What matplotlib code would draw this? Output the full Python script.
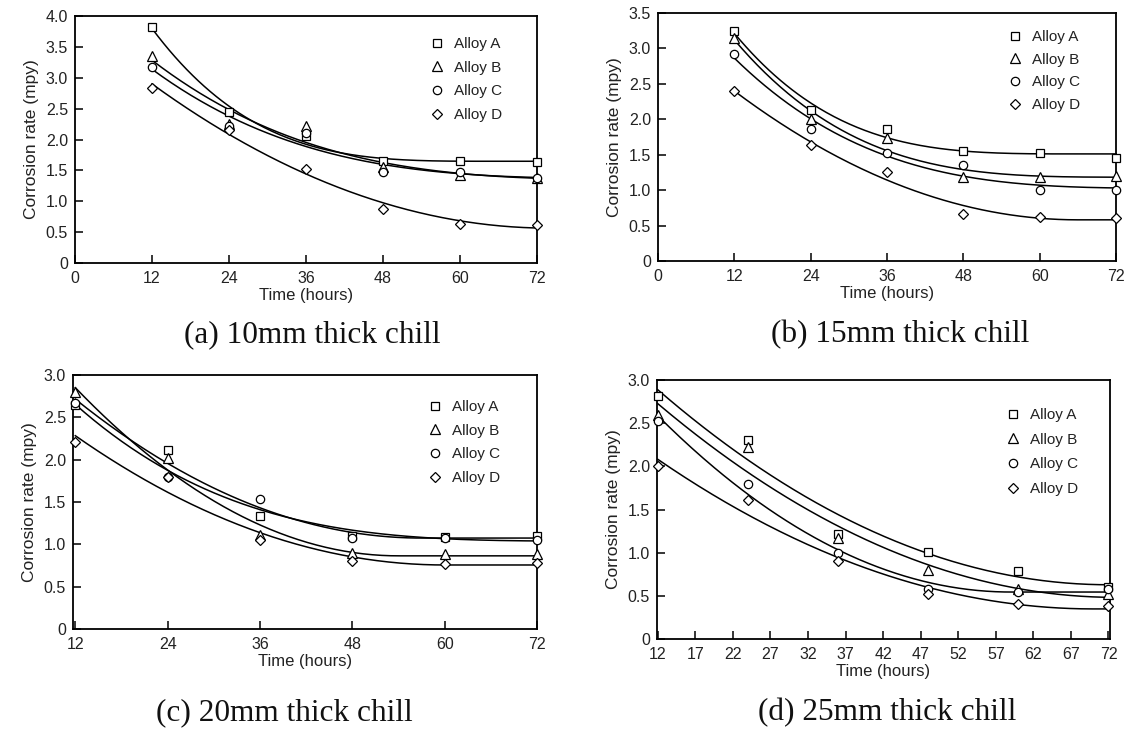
import numpy as np
import matplotlib
matplotlib.use('Agg')
import matplotlib.pyplot as plt

plt.rcParams['font.family'] = ['Liberation Sans', 'DejaVu Sans']

alloys = ['Alloy A', 'Alloy B', 'Alloy C', 'Alloy D']
markers = ['s', '^', 'o', 'D']
msizes = [6, 7, 6, 5.5]
hours = [12, 24, 36, 48, 60, 72]

# (a) 10mm
a_vals = [[3.82, 2.45, 2.05, 1.65, 1.65, 1.63],
          [3.35, 2.25, 2.22, 1.55, 1.42, 1.38],
          [3.18, 2.22, 2.10, 1.48, 1.47, 1.38],
          [2.84, 2.16, 1.52, 0.88, 0.63, 0.62]]
# (b) 15mm
b_vals = [[3.24, 2.13, 1.86, 1.55, 1.53, 1.45],
          [3.15, 2.00, 1.74, 1.19, 1.19, 1.20],
          [2.92, 1.86, 1.52, 1.35, 1.00, 1.00],
          [2.40, 1.64, 1.26, 0.67, 0.62, 0.60]]
# (c) 20mm
c_vals = [[2.65, 2.12, 1.33, 1.10, 1.09, 1.10],
          [2.80, 2.02, 1.11, 0.90, 0.88, 0.88],
          [2.67, 1.80, 1.53, 1.08, 1.08, 1.05],
          [2.21, 1.79, 1.05, 0.80, 0.77, 0.78]]
# (d) 25mm
d_vals = [[2.81, 2.31, 1.22, 1.01, 0.79, 0.60],
          [2.60, 2.22, 1.17, 0.80, 0.58, 0.52],
          [2.53, 1.80, 1.00, 0.58, 0.55, 0.58],
          [2.00, 1.61, 0.90, 0.52, 0.40, 0.38]]

captions = ['(a) 10mm thick chill', '(b) 15mm thick chill',
            '(c) 20mm thick chill', '(d) 25mm thick chill']


def smooth_fit(x, y):
    # y = a + b*(x0 - min(x, x0))**p, a decay that levels off at x0
    x = np.asarray(x, float)
    y = np.asarray(y, float)
    best = None
    for x0 in np.linspace(48, 120, 73):
        for p in np.linspace(2.0, 3.5, 16):
            u = (x0 - np.minimum(x, x0)) ** p
            A = np.column_stack([np.ones_like(x), u])
            coef = np.linalg.lstsq(A, y, rcond=None)[0]
            r = np.sum((A @ coef - y) ** 2)
            if best is None or r < best[0]:
                best = (r, x0, p, coef)
    _, x0, p, coef = best
    return lambda t: coef[0] + coef[1] * (x0 - np.minimum(t, x0)) ** p


W, H = 1134, 731
fig = plt.figure(figsize=(W / 100, H / 100), dpi=100)
# axes boxes in pixels: left, right, top, bottom
boxes = [(75, 537, 16, 263),
         (658, 1116, 13, 261),
         (73, 537, 375, 629),
         (657, 1110, 380, 639)]
data = [a_vals, b_vals, c_vals, d_vals]
ylims = [4.0, 3.5, 3.0, 3.0]
# legend: first marker x, first row y, row spacing (pixels)
leg_pos = [(437, 42, 24), (1015, 35, 23), (435, 405, 24), (1013, 413, 25)]
cap_pos = [(312, 335), (900, 335), (284, 713), (887, 713)]
txt = '#222222'
fs_leg = 11

for i in range(4):
    l, r, t, b = boxes[i]
    ax = fig.add_axes([l / W, 1 - b / H, (r - l) / W, (b - t) / H])
    for j in range(4):
        f = smooth_fit(hours, data[i][j])
        xs = np.linspace(12, 72, 200)
        ax.plot(xs, f(xs), color='black', lw=1.1, zorder=2, clip_on=False)
        ax.plot(hours, data[i][j], linestyle='none', marker=markers[j],
                ms=msizes[j], mfc='white', mec='black', mew=0.9,
                label=alloys[j], zorder=3, clip_on=False)
    ax.set_ylim(0, ylims[i])
    yt = np.arange(0, ylims[i] + 0.01, 0.5)
    ax.set_yticks(yt)
    ax.set_yticklabels(['0'] + ['%.1f' % v for v in yt[1:]])
    if i < 2:
        ax.set_xlim(0, 72)
        ax.set_xticks([0, 12, 24, 36, 48, 60, 72])
    elif i == 2:
        ax.set_xlim(11.7, 72)
        ax.set_xticks([12, 24, 36, 48, 60, 72])
    else:
        ax.set_xlim(11.9, 72.2)
        ax.set_xticks(list(range(12, 73, 5)))
    ax.tick_params(direction='in', length=6, width=1.1, labelsize=11.5,
                   colors='black', labelcolor=txt)
    ax.tick_params(axis='x', pad=6)
    ax.tick_params(axis='y', pad=5)
    for s in ax.spines.values():
        s.set_linewidth(1.3)
    ax.set_xlabel('Time (hours)', fontsize=12, color=txt, labelpad=1)
    ax.set_ylabel('Corrosion rate (mpy)', fontsize=12.5, color=txt, labelpad=5)

    mx, my, sp = leg_pos[i]
    em = fs_leg * 100 / 72.0
    ax.legend(loc='upper left', frameon=False, fontsize=fs_leg,
              handlelength=1.0, handletextpad=0.6, borderpad=0,
              borderaxespad=0, labelspacing=(sp - 0.94 * em) / em,
              labelcolor=txt,
              bbox_to_anchor=((mx - 0.5 * em) / W, 1 - (my - 5) / H),
              bbox_transform=fig.transFigure)

    cx, cy = cap_pos[i]
    fig.text(cx / W, 1 - cy / H, captions[i], ha='center', va='center',
             fontsize=22.5, family='Liberation Serif', color='#111111')

fig.savefig('out.png', dpi=100, facecolor='white')
